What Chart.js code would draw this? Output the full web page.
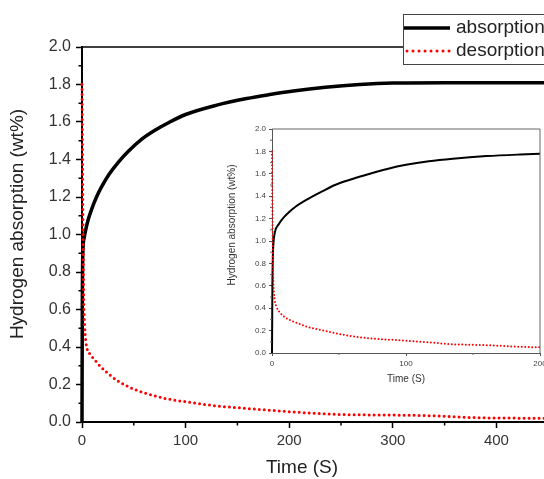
<!DOCTYPE html>
<html>
<head>
<meta charset="utf-8">
<script src="https://cdn.jsdelivr.net/npm/chart.js@4.4.1/dist/chart.umd.min.js"></script>
<style>
  html, body { margin: 0; padding: 0; background: #fff; }
  #wrap { position: relative; width: 544px; height: 479px; overflow: hidden; }
  #mainChart { position: absolute; left: 0; top: 0; }
  #insetChart { position: absolute; left: 220px; top: 110px; }
</style>
</head>
<body>
<div id="wrap">
  <canvas id="mainChart" width="640" height="479"></canvas>
  <canvas id="insetChart" width="330" height="290"></canvas>
</div>
<script>
// main plot data (time in s, hydrogen wt%)
const absTime = [0, 0.3, 0.8, 2, 3, 6, 9, 14, 19, 26, 35, 45, 58, 70, 83, 100, 130, 159, 180, 204, 235, 268, 300, 350, 400, 450, 500];
const absValues = [0, 0.6, 0.9, 0.98, 1.01, 1.08, 1.13, 1.2, 1.255, 1.32, 1.385, 1.445, 1.51, 1.555, 1.595, 1.64, 1.69, 1.725, 1.745, 1.765, 1.785, 1.8, 1.808, 1.81, 1.81, 1.81, 1.81];
const desTime = [0, 0.5, 1, 1.5, 2.2, 3, 4.5, 8, 12.5, 18, 25, 33, 41.5, 50, 57.6, 70, 80, 100, 128, 160, 200, 250, 300, 340, 375, 410, 450, 500];
const desValues = [1.8, 1.4, 1.0, 0.7, 0.55, 0.47, 0.4, 0.36, 0.33, 0.295, 0.26, 0.225, 0.197, 0.175, 0.16, 0.14, 0.126, 0.108, 0.087, 0.072, 0.055, 0.04, 0.037, 0.033, 0.024, 0.021, 0.02, 0.018];

// inset data (first 200 s)
const insetAbsTime = [0, 0.3, 0.6, 1, 2.2, 5, 8, 12, 18, 24.6, 37, 47, 60, 73, 86, 100, 117, 135, 160, 185, 200];
const insetAbsValues = [0, 0.6, 0.85, 0.97, 1.08, 1.15, 1.2, 1.25, 1.31, 1.36, 1.44, 1.5, 1.553, 1.6, 1.643, 1.68, 1.712, 1.735, 1.758, 1.772, 1.778];
const insetDesTime = [0, 0.3, 0.6, 1, 2, 3.5, 6, 9.7, 14, 19.6, 26, 37, 48, 60, 73, 86, 100, 117, 135, 160, 180, 200];
const insetDesValues = [1.8, 1.3, 0.9, 0.65, 0.48, 0.41, 0.36, 0.32, 0.29, 0.265, 0.235, 0.205, 0.175, 0.15, 0.13, 0.12, 0.11, 0.095, 0.078, 0.07, 0.058, 0.05];

const seriesNames = ['absorption', 'desorption'];
const xTitle = 'Time (S)';
const yTitle = 'Hydrogen absorption (wt%)';

// ticks
const mainXMinor = [50, 150, 250, 350, 450];
const insetXMinor = [50, 150];
const yMinor = [0.1, 0.3, 0.5, 0.7, 0.9, 1.1, 1.3, 1.5, 1.7, 1.9];

const FONT = 'Liberation Sans, Arial, sans-serif';

function toPoints(xs, ys) {
    return xs.map((x, i) => ({ x: x, y: ys[i] }));
}

// frame (top/right), minor ticks and axis titles
function framePlugin(id, o) {
    return {
        id: id,
        afterDraw(chart) {
            const ctx = chart.ctx;
            const a = chart.chartArea;
            const x = chart.scales.x, y = chart.scales.y;
            ctx.save();
            ctx.strokeStyle = o.color;
            ctx.lineWidth = o.frameWidth;
            ctx.beginPath();
            ctx.moveTo(a.left, a.top);
            ctx.lineTo(a.right, a.top);
            ctx.lineTo(a.right, a.bottom);
            ctx.stroke();

            ctx.lineWidth = o.tickWidth;
            ctx.beginPath();
            o.xMinor.forEach(v => {
                const px = x.getPixelForValue(v);
                ctx.moveTo(px, a.bottom);
                ctx.lineTo(px, a.bottom + o.minorLen);
            });
            o.yMinor.forEach(v => {
                const py = y.getPixelForValue(v);
                ctx.moveTo(a.left, py);
                ctx.lineTo(a.left - o.minorLen, py);
            });
            ctx.stroke();

            ctx.fillStyle = o.textColor;
            ctx.font = o.titleFont;
            ctx.textAlign = 'center';
            ctx.textBaseline = 'middle';
            ctx.fillText(xTitle, o.xTitlePos[0], o.xTitlePos[1]);
            ctx.translate(o.yTitlePos[0], o.yTitlePos[1]);
            ctx.rotate(-Math.PI / 2);
            ctx.fillText(yTitle, 0, 0);
            ctx.restore();

            if (o.legend) o.legend(ctx);
        }
    };
}

function drawLegend(ctx) {
    ctx.save();
    ctx.fillStyle = '#fff';
    ctx.fillRect(403, 14, 200, 50);
    ctx.strokeStyle = '#444';
    ctx.lineWidth = 1;
    ctx.strokeRect(403.5, 14.5, 200, 50);

    ctx.strokeStyle = '#000';
    ctx.lineWidth = 3.5;
    ctx.beginPath();
    ctx.moveTo(404, 28);
    ctx.lineTo(450, 28);
    ctx.stroke();

    ctx.strokeStyle = '#ff0000';
    ctx.lineWidth = 3;
    ctx.lineCap = 'round';
    ctx.setLineDash([0, 6]);
    ctx.beginPath();
    ctx.moveTo(407, 51);
    ctx.lineTo(450, 51);
    ctx.stroke();
    ctx.setLineDash([]);

    ctx.fillStyle = '#222';
    ctx.font = '19px ' + FONT;
    ctx.textAlign = 'left';
    ctx.textBaseline = 'middle';
    ctx.fillText(seriesNames[0], 456, 28);
    ctx.fillText(seriesNames[1], 456, 51);
    ctx.restore();
}

function axisOptions(cfg) {
    return {
        type: 'linear',
        min: cfg.min,
        max: cfg.max,
        afterFit: cfg.afterFit,
        border: { color: cfg.color, width: cfg.borderWidth },
        grid: {
            drawOnChartArea: false,
            drawTicks: true,
            tickLength: cfg.tickLength,
            tickColor: cfg.color,
            tickWidth: cfg.tickWidth
        },
        ticks: {
            stepSize: cfg.step,
            padding: cfg.padding,
            color: cfg.textColor,
            font: { family: FONT, size: cfg.fontSize },
            maxRotation: 0,
            autoSkip: false,
            callback: cfg.callback
        }
    };
}

new Chart(document.getElementById('mainChart'), {
    type: 'scatter',
    data: {
        datasets: [
            {
                label: seriesNames[0],
                data: toPoints(absTime, absValues),
                showLine: true,
                borderColor: '#000',
                borderWidth: 3.5,
                pointRadius: 0,
                cubicInterpolationMode: 'monotone',
                clip: false,
                order: 2
            },
            {
                label: seriesNames[1],
                data: toPoints(desTime, desValues),
                showLine: true,
                borderColor: '#ff0000',
                borderWidth: 3,
                borderDash: [0, 5],
                borderCapStyle: 'round',
                pointRadius: 0,
                cubicInterpolationMode: 'monotone',
                clip: false,
                order: 1
            }
        ]
    },
    options: {
        responsive: false,
        animation: false,
        devicePixelRatio: 1,
        layout: { padding: { top: 47, right: 40, left: 0, bottom: 0 } },
        plugins: { legend: { display: false }, tooltip: { enabled: false } },
        scales: {
            x: axisOptions({
                min: 0, max: 500, step: 100, color: '#000', borderWidth: 2,
                tickLength: 6, tickWidth: 1.5, padding: 4, textColor: '#333', fontSize: 15,
                afterFit: s => { s.height = 57; }
            }),
            y: axisOptions({
                min: 0, max: 2, step: 0.2, color: '#000', borderWidth: 2,
                tickLength: 6, tickWidth: 1.5, padding: 5, textColor: '#333', fontSize: 16,
                callback: v => v.toFixed(1),
                afterFit: s => { s.width = 82; }
            })
        }
    },
    plugins: [framePlugin('mainFrame', {
        color: '#000', frameWidth: 1.5, tickWidth: 1.5, minorLen: 3.5,
        xMinor: mainXMinor, yMinor: yMinor,
        textColor: '#222', titleFont: '19px ' + FONT,
        xTitlePos: [302, 468], yTitlePos: [18, 224],
        legend: drawLegend
    })]
});

new Chart(document.getElementById('insetChart'), {
    type: 'scatter',
    data: {
        datasets: [
            {
                label: seriesNames[0],
                data: toPoints(insetAbsTime, insetAbsValues),
                showLine: true,
                borderColor: '#000',
                borderWidth: 2,
                pointRadius: 0,
                cubicInterpolationMode: 'monotone',
                clip: false,
                order: 2
            },
            {
                label: seriesNames[1],
                data: toPoints(insetDesTime, insetDesValues),
                showLine: true,
                borderColor: '#ff0000',
                borderWidth: 2,
                borderDash: [0, 3.5],
                borderCapStyle: 'round',
                pointRadius: 0,
                cubicInterpolationMode: 'monotone',
                clip: false,
                order: 1
            }
        ]
    },
    options: {
        responsive: false,
        animation: false,
        devicePixelRatio: 1,
        layout: { padding: { top: 19, right: 10, left: 0, bottom: 0 } },
        plugins: { legend: { display: false }, tooltip: { enabled: false } },
        scales: {
            x: axisOptions({
                min: 0, max: 200, step: 100, color: '#555', borderWidth: 1,
                tickLength: 3, tickWidth: 1, padding: 3, textColor: '#444', fontSize: 8,
                afterFit: s => { s.height = 47; }
            }),
            y: axisOptions({
                min: 0, max: 2, step: 0.2, color: '#555', borderWidth: 1,
                tickLength: 3, tickWidth: 1, padding: 3, textColor: '#444', fontSize: 8,
                callback: v => v.toFixed(1),
                afterFit: s => { s.width = 52; }
            })
        }
    },
    plugins: [framePlugin('insetFrame', {
        color: '#666', frameWidth: 1, tickWidth: 1, minorLen: 2,
        xMinor: insetXMinor, yMinor: yMinor,
        textColor: '#333', titleFont: '10px ' + FONT,
        xTitlePos: [186, 269], yTitlePos: [12, 115]
    })]
});
</script>
</body>
</html>
